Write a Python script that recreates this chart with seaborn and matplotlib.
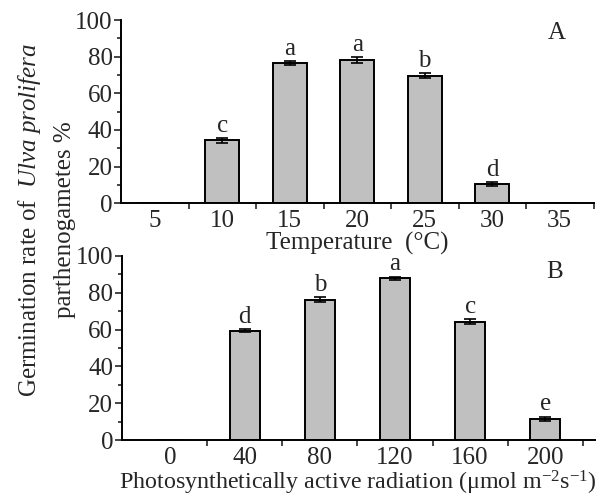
import matplotlib
matplotlib.use("Agg")
import matplotlib.pyplot as plt
import seaborn as sns
import pandas as pd
import numpy as np
from matplotlib.ticker import MultipleLocator, FixedLocator

temp_labels = ["5", "10", "15", "20", "25", "30", "35"]
temp_values = [0, 34.3, 76.4, 78.2, 69.6, 10.4, 0]
temp_err = [0, 1.2, 1.2, 1.5, 1.5, 1.2, 0]
temp_letters = ["", "c", "a", "a", "b", "d", ""]

par_labels = ["0", "40", "80", "120", "160", "200"]
par_values = [0, 59.4, 76.3, 88.0, 64.4, 11.5]
par_err = [0, 0.9, 1.2, 0.8, 1.1, 1.1]
par_letters = ["", "d", "b", "a", "c", "e"]

sns.set_theme(style="ticks")
plt.rcParams["font.family"] = ["Liberation Serif", "DejaVu Serif"]
plt.rcParams["mathtext.fontset"] = "custom"
plt.rcParams["mathtext.rm"] = "Liberation Serif"
plt.rcParams["mathtext.it"] = "Liberation Serif:italic"

fig = plt.figure(figsize=(5.96, 4.98), dpi=100)
axA = fig.add_axes([121 / 596, 1 - 203.3 / 498, 472.5 / 596, 183.3 / 498])
axB = fig.add_axes([121.7 / 596, 1 - 440 / 498, 473 / 596, 184 / 498])

FS = 18
bar_color = "#c0c0c0"


def panel(ax, labels, values, errs, letters, width, xlim, xlabel, xlfs, tag, tagpos):
    df = pd.DataFrame({"x": labels, "y": values})
    sns.barplot(data=df, x="x", y="y", order=labels, color=bar_color,
                edgecolor="black", linewidth=1.4, width=width, ax=ax,
                saturation=1, errorbar=None)
    pos = np.arange(len(labels))
    vals = np.array(values)
    errs = np.array(errs)
    mask = vals > 0
    ax.errorbar(pos[mask], vals[mask], yerr=errs[mask], fmt="none",
                ecolor="black", elinewidth=1.2, capsize=4, capthick=1.2, zorder=5)
    for p, v, e, l in zip(pos, vals, errs, letters):
        if l:
            ax.annotate(l, (p, v + e), xytext=(0, 1), textcoords="offset points",
                        ha="center", va="bottom", fontsize=FS)
    ax.set_xlim(*xlim)
    ax.set_ylim(0, 100)
    ax.yaxis.set_major_locator(MultipleLocator(20))
    ax.yaxis.set_minor_locator(MultipleLocator(10))
    ax.xaxis.set_major_locator(FixedLocator(pos))
    ax.xaxis.set_minor_locator(FixedLocator(pos + 0.5))
    ax.set_xticklabels(labels)
    ax.tick_params(axis="x", which="major", length=0, labelsize=FS, pad=5)
    ax.tick_params(axis="x", which="minor", length=4, width=1.2, direction="out")
    ax.tick_params(axis="y", which="major", length=5, width=1.2, labelsize=FS, pad=1)
    ax.tick_params(axis="y", which="minor", length=3, width=1.2)
    for s in ["top", "right"]:
        ax.spines[s].set_visible(False)
    for s in ["left", "bottom"]:
        ax.spines[s].set_linewidth(1.4)
        ax.spines[s].set_color("black")
    ax.set_xlabel(xlabel, fontsize=xlfs, labelpad=0)
    ax.set_ylabel("")
    ax.text(tagpos[0], tagpos[1], tag, transform=ax.transAxes, fontsize=FS,
            ha="center", va="center")


panel(axA, temp_labels, temp_values, temp_err, temp_letters, 0.5, (-0.5, 6.5),
      "Temperature  (°C)", FS, "A", (0.923, 0.93))
panel(axB, par_labels, par_values, par_err, par_letters, 0.4, (-0.64, 5.66),
      r"Photosynthetically active radiation (μmol m$^{\mathrm{-2}}$s$^{\mathrm{-1}}$)", 17.3,
      "B", (0.916, 0.913))

yc = 1 - 220 / 498
fig.text(30 / 596, yc, r"Germination rate of  $\it{Ulva\ prolifera}$", rotation=90,
         ha="center", va="center", fontsize=FS)
fig.text(65 / 596, yc, "parthenogametes %", rotation=90,
         ha="center", va="center", fontsize=FS)

fig.savefig("out.png", dpi=100)
